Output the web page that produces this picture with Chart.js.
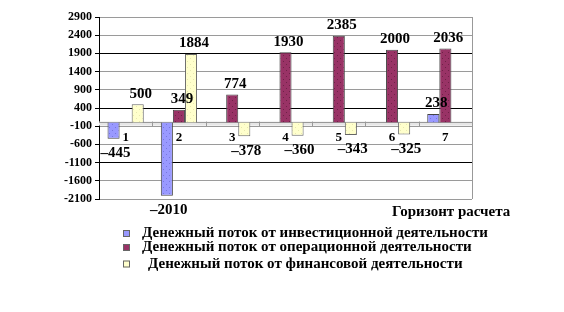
<!DOCTYPE html>
<html>
<head>
<meta charset="utf-8">
<script src="https://cdn.jsdelivr.net/npm/chart.js@4.4.0/dist/chart.umd.min.js"></script>
<style>
html,body{margin:0;padding:0;background:#fff;}
#wrap{position:relative;width:564px;height:312px;}
</style>
</head>
<body>
<div id="wrap"><canvas id="c" width="564" height="312"></canvas></div>
<script>
const categories = ['1','2','3','4','5','6','7'];
const investValues = [-445, -2010, null, null, null, null, 238];
const operValues = [null, 349, 774, 1930, 2385, 2000, 2036];
const finValues = [500, 1884, -378, -360, -343, -325, null];
const seriesNames = [
  'Денежный поток от инвестиционной деятельности',
  'Денежный поток от операционной деятельности',
  'Денежный поток от финансовой деятельности'
];
const yTicks = [-2100, -1600, -1100, -600, -100, 400, 900, 1400, 1900, 2400, 2900];
const axisTitle = 'Горизонт расчета';

const SERIF = '"Liberation Serif", "Times New Roman", serif';

function makePattern(base, dot) {
  const p = document.createElement('canvas');
  p.width = 6; p.height = 6;
  const g = p.getContext('2d');
  g.fillStyle = base; g.fillRect(0, 0, 6, 6);
  g.fillStyle = dot;
  g.fillRect(1, 1, 1, 1);
  g.fillRect(4, 4, 1, 1);
  return document.getElementById('c').getContext('2d').createPattern(p, 'repeat');
}
const baseColors = ['#9999FF', '#993366', '#FFFFCC'];
const fills = [
  makePattern('#9999FF', '#7777dd'),
  makePattern('#993366', '#6e2247'),
  makePattern('#FFFFCC', '#e8e8b0')
];
const gridColors = {'1900': '#000', '400': '#000', '-1100': '#000'};

const overlay = {
  id: 'overlay',
  beforeDatasetsDraw(chart) {
    const ctx = chart.ctx, ca = chart.chartArea;
    const y = chart.scales.y;
    const y0 = y.getPixelForValue(0);
    ctx.save();
    ctx.strokeStyle = '#999'; ctx.lineWidth = 1;
    ctx.beginPath(); ctx.moveTo(ca.right + 0.5, ca.top); ctx.lineTo(ca.right + 0.5, ca.bottom); ctx.stroke();
    ctx.fillStyle = '#e6e6e6';
    ctx.fillRect(ca.left, y0 - 1, ca.right - ca.left, 4);
    ctx.strokeStyle = '#999';
    ctx.beginPath(); ctx.moveTo(ca.left, Math.round(y0) - 0.5); ctx.lineTo(ca.right, Math.round(y0) - 0.5); ctx.stroke();
    const step = (ca.right - ca.left) / categories.length;
    for (let i = 1; i < categories.length; i++) {
      const bx = Math.round(ca.left + step * i) + 0.5;
      ctx.beginPath(); ctx.moveTo(bx, y0 - 1); ctx.lineTo(bx, y0 + 4); ctx.stroke();
    }
    ctx.restore();
  },
  afterDatasetsDraw(chart) {
    const ctx = chart.ctx, ca = chart.chartArea;
    const y = chart.scales.y, x = chart.scales.x;
    const y0 = y.getPixelForValue(0);
    ctx.save();
    ctx.fillStyle = '#000';
    ctx.font = 'bold 13px ' + SERIF;
    ctx.textAlign = 'center'; ctx.textBaseline = 'top';
    categories.forEach((c, i) => {
      ctx.fillText(c, x.getPixelForValue(i), y0 + 9);
    });
    ctx.font = 'bold 15px ' + SERIF;
    chart.data.datasets.forEach((ds, di) => {
      const meta = chart.getDatasetMeta(di);
      meta.data.forEach((el, i) => {
        const v = ds.data[i];
        if (v === null || v === undefined) return;
        if (v >= 0) {
          ctx.textBaseline = 'bottom';
          ctx.fillText(String(v), el.x + 3, el.y - 3);
        } else {
          ctx.textBaseline = 'top';
          ctx.fillText(String(v).replace('-', '–'), el.x + 2, el.y + 7);
        }
      });
    });
    ctx.font = 'bold 15px ' + SERIF;
    ctx.textAlign = 'left'; ctx.textBaseline = 'middle';
    ctx.fillText(axisTitle, 392, ca.bottom + 13);
    const rows = [233.5, 247.5, 264];
    const textX = [142, 142, 148];
    ctx.font = 'bold 15px ' + SERIF;
    chart.data.datasets.forEach((ds, di) => {
      const cy = rows[di];
      ctx.fillStyle = baseColors[di];
      ctx.fillRect(123, cy - 3.5, 7, 7);
      ctx.strokeStyle = '#666'; ctx.lineWidth = 1;
      ctx.strokeRect(123.5, cy - 3, 6, 6);
      ctx.fillStyle = '#000';
      ctx.fillText(ds.label, textX[di], cy);
    });
    ctx.restore();
  }
};

new Chart(document.getElementById('c'), {
  type: 'bar',
  data: {
    labels: categories,
    datasets: [
      {label: seriesNames[0], data: investValues, backgroundColor: fills[0], borderColor: '#444', borderWidth: 1},
      {label: seriesNames[1], data: operValues, backgroundColor: fills[1], borderColor: '#444', borderWidth: 1},
      {label: seriesNames[2], data: finValues, backgroundColor: fills[2], borderColor: '#666', borderWidth: 1}
    ]
  },
  options: {
    responsive: false,
    animation: false,
    layout: {padding: {left: 0, top: 17, right: 92, bottom: 113}},
    plugins: {legend: {display: false}, tooltip: {enabled: false}},
    datasets: {bar: {categoryPercentage: 0.68, barPercentage: 1, skipNull: false}},
    scales: {
      x: {display: false},
      y: {
        min: -2100, max: 2900,
        afterFit(s) { s.width = 99; },
        afterBuildTicks(s) { s.ticks = yTicks.map(v => ({value: v})); },
        ticks: {
          color: '#000',
          font: {family: SERIF, size: 12, weight: 'bold'},
          padding: 3,
          callback: v => String(v)
        },
        grid: {
          color: c => (c.tick && gridColors[String(c.tick.value)]) || '#9a9a9a',
          tickColor: '#000',
          tickLength: 4,
          lineWidth: 1
        },
        border: {display: true, color: '#000', width: 1}
      }
    }
  },
  plugins: [overlay]
});
</script>
</body>
</html>
